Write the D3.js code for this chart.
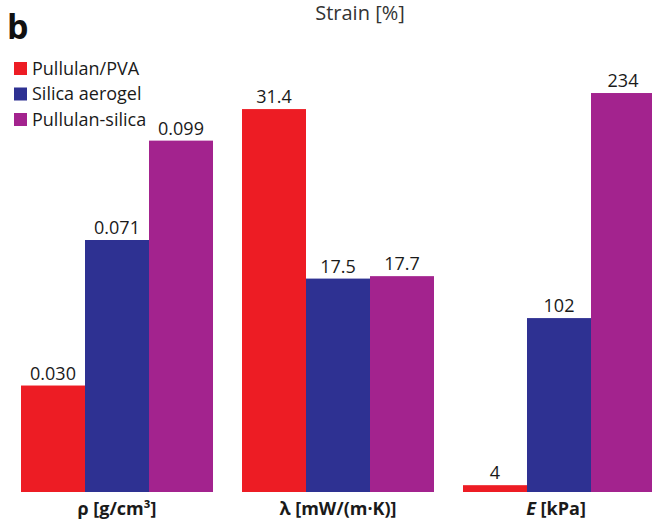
<!DOCTYPE html>
<html>
<head>
<meta charset="utf-8">
<script src="https://cdn.jsdelivr.net/npm/d3@7"></script>
<style>
  body { margin: 0; background: #fff; }
  svg { display: block; font-family: "Open Sans", sans-serif; }
</style>
</head>
<body>
<svg id="chart" width="652" height="527"></svg>
<script>
// data
const series = ["Pullulan/PVA", "Silica aerogel", "Pullulan-silica"]
const colors = ["#ED1C24", "#2E3192", "#A3238E"]
const groups = ["rho", "lambda", "E"]
const rhoValues = [0.030, 0.071, 0.099]
const lambdaValues = [31.4, 17.5, 17.7]
const eValues = [4, 102, 234]
const rhoLabels = ["0.030", "0.071", "0.099"]
const lambdaLabels = ["31.4", "17.5", "17.7"]
const eLabels = ["4", "102", "234"]
// each group has its own y scale (max of domain)
const groupMax = [0.1127, 32.8, 234.6]

const values = [rhoValues, lambdaValues, eValues]
const labels = [rhoLabels, lambdaLabels, eLabels]

const svg = d3.select("#chart")
const baseline = 492, plotH = 400

const x0 = d3.scaleBand()
    .domain(groups)
    .range([21, 655])
    .paddingInner(0.1312)
    .paddingOuter(0)
const x1 = d3.scaleBand()
    .domain(series)
    .range([0, x0.bandwidth()])

groups.forEach((g, gi) => {
    const y = d3.scaleLinear()
        .domain([0, groupMax[gi]])
        .range([baseline, baseline - plotH])
    const grp = svg.append("g")
        .attr("transform", `translate(${x0(g)},0)`)
    const data = series.map((s, i) => ({ s, v: values[gi][i], lab: labels[gi][i], c: colors[i] }))
    grp.selectAll("rect")
        .data(data)
        .join("rect")
        .attr("x", d => x1(d.s))
        .attr("width", x1.bandwidth())
        .attr("y", d => y(d.v))
        .attr("height", d => baseline - y(d.v))
        .attr("fill", d => d.c)
    grp.selectAll("text")
        .data(data)
        .join("text")
        .attr("x", d => x1(d.s) + x1.bandwidth() / 2)
        .attr("y", d => y(d.v) - 6)
        .attr("text-anchor", "middle")
        .attr("font-size", 18)
        .attr("fill", "#1a1a1a")
        .text(d => d.lab)
})

// category labels
const catX = g => x0(g) + x0.bandwidth() / 2
const cat = svg.append("g")
    .attr("font-size", 18)
    .attr("font-weight", "bold")
    .attr("fill", "#1a1a1a")
    .attr("text-anchor", "middle")
cat.append("text").attr("x", catX("rho")).attr("y", 515).text("ρ [g/cm³]")
cat.append("text").attr("x", catX("lambda")).attr("y", 515).text("λ [mW/(m·K)]")
const eText = cat.append("text").attr("x", catX("E") - 3).attr("y", 515)
eText.append("tspan").attr("font-style", "italic").text("E")
eText.append("tspan").text(" [kPa]")

// panel letter
svg.append("text")
    .attr("x", 7).attr("y", 39)
    .attr("font-size", 34)
    .attr("font-weight", "bold")
    .attr("fill", "#111")
    .text("b")

// leftover axis title from panel above
svg.append("text")
    .attr("x", 360).attr("y", 20)
    .attr("text-anchor", "middle")
    .attr("font-size", 20)
    .attr("fill", "#333")
    .text("Strain [%]")

// legend
const legend = svg.append("g")
    .selectAll("g")
    .data(series)
    .join("g")
    .attr("transform", (d, i) => `translate(14,${62 + i * 25.5})`)
legend.append("rect")
    .attr("width", 13).attr("height", 13)
    .attr("fill", (d, i) => colors[i])
legend.append("text")
    .attr("x", 18).attr("y", 12.5)
    .attr("font-size", 18)
    .attr("fill", "#1a1a1a")
    .text(d => d)
</script>
</body>
</html>
